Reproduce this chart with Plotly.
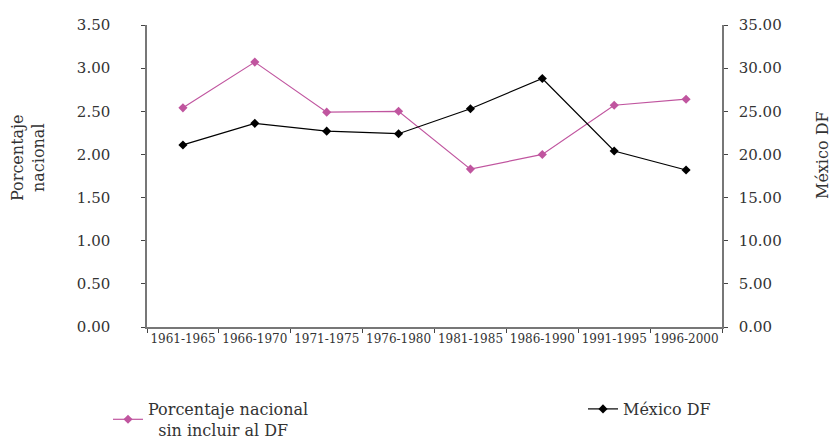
import plotly.graph_objects as go

categories = ["1961-1965", "1966-1970", "1971-1975", "1976-1980",
              "1981-1985", "1986-1990", "1991-1995", "1996-2000"]
porcentaje_nacional = [2.54, 3.07, 2.49, 2.50, 1.83, 2.00, 2.57, 2.64]
mexico_df = [21.1, 23.6, 22.7, 22.4, 25.3, 28.8, 20.4, 18.2]
left_ticks = [0, 0.5, 1.0, 1.5, 2.0, 2.5, 3.0, 3.5]
right_ticks = [0, 5, 10, 15, 20, 25, 30, 35]

FONT = "DejaVu Serif"
PINK = "#c0559f"
TXT = "#333333"
W, H = 833, 439
ML, MR, MT, MB = 147, 111, 25, 112

fig = go.Figure()
fig.add_trace(go.Scatter(
    x=categories, y=porcentaje_nacional, mode="lines+markers",
    name="Porcentaje nacional<br>&nbsp;&nbsp;sin incluir al DF",
    line=dict(color=PINK, width=1.2),
    marker=dict(symbol="diamond", size=7, color=PINK),
    yaxis="y", legend="legend"))
fig.add_trace(go.Scatter(
    x=categories, y=mexico_df, mode="lines+markers", name="México DF",
    line=dict(color="#000000", width=1.2),
    marker=dict(symbol="diamond", size=7, color="#000000"),
    yaxis="y2", legend="legend2"))

axis_common = dict(showgrid=False, zeroline=False, showline=True,
                   linecolor="#777777", linewidth=1.5, ticks="outside",
                   ticklen=4, tickcolor="#444444",
                   tickfont=dict(family=FONT, size=15, color=TXT))

legend_common = dict(orientation="h", xref="container", yref="container",
                     xanchor="left", yanchor="top", itemwidth=30,
                     font=dict(family=FONT, size=16, color=TXT),
                     bgcolor="rgba(0,0,0,0)")

fig.update_layout(
    width=W, height=H,
    margin=dict(l=ML, r=MR, t=MT, b=MB, autoexpand=False),
    paper_bgcolor="white", plot_bgcolor="white",
    font=dict(family=FONT, color=TXT),
    showlegend=True,
    legend=dict(x=108 / W, y=1 - 392 / H, **legend_common),
    legend2=dict(x=583 / W, y=1 - 392 / H, **legend_common),
    xaxis=dict(type="category", showgrid=False, zeroline=False, showline=True,
               linecolor="#777777", linewidth=1.5, ticks="outside", ticklen=4,
               tickcolor="#444444", tickson="boundaries", tickangle=0,
               tickfont=dict(family=FONT, size=12, color=TXT),
               range=[-0.5, 7.5]),
    yaxis=dict(range=[0, 3.5], tickvals=left_ticks, tickformat=".2f",
               ticklabelstandoff=28, **axis_common),
    yaxis2=dict(range=[0, 35], tickvals=right_ticks, tickformat=".2f",
                overlaying="y", side="right", ticklabelstandoff=8, **axis_common),
)

pw, ph = W - ML - MR, H - MT - MB
for text, px, py in [("Porcentaje<br>nacional", 28, 158), ("México DF", 822, 155)]:
    fig.add_annotation(text=text, x=(px - ML) / pw, y=(H - MB - py) / ph,
                       xref="paper", yref="paper", showarrow=False, textangle=-90,
                       xanchor="center", yanchor="middle",
                       font=dict(family=FONT, size=16, color=TXT))

fig.write_html("out.html", config={"displayModeBar": False},
               post_script="document.body.style.margin='0';document.body.style.overflow='hidden';")
